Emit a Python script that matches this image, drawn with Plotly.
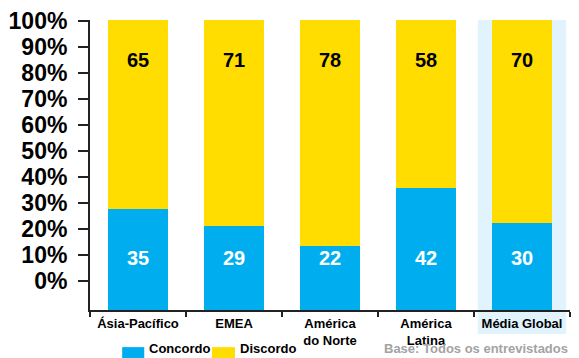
import plotly.graph_objects as go

# Survey results by region (percent)
regions = ["Ásia-Pacífico", "EMEA", "América<br>do Norte", "América<br>Latina", "Média Global"]
concordo = [35, 29, 22, 42, 30]
discordo = [65, 71, 78, 58, 70]
tick_values = list(range(0, 101, 10))
tick_labels = [f"{v}%" for v in tick_values]

BLUE = "#00AEEF"
YELLOW = "#FFDD00"
HILITE = "#E1F3FD"
FONT = "Liberation Sans, Arial, sans-serif"

fig = go.Figure()
fig.add_trace(go.Bar(x=regions, y=concordo, name="Concordo", marker=dict(color=BLUE, line=dict(width=0)),
                     width=0.625, hoverinfo="skip"))
fig.add_trace(go.Bar(x=regions, y=discordo, name="Discordo", marker=dict(color=YELLOW, line=dict(width=0)),
                     width=0.625, hoverinfo="skip"))

# value labels: agree near the bottom, disagree near the top of each column
ann = []
for r, c, d in zip(regions, concordo, discordo):
    ann.append(dict(x=r, y=17.9, xref="x", yref="y", text=f"<b>{c}</b>", showarrow=False,
                    font=dict(family=FONT, size=20, color="white")))
    ann.append(dict(x=r, y=86.2, xref="x", yref="y", text=f"<b>{d}</b>", showarrow=False,
                    font=dict(family=FONT, size=20, color="black")))

# hand-made legend below the plot
legend_items = [("Concordo", BLUE, 0.067, 0.113), ("Discordo", YELLOW, 0.254, 0.302)]
shapes = []
for name, col, x0, x1 in legend_items:
    shapes.append(dict(type="rect", xref="paper", yref="paper", x0=x0, x1=x1, y0=-0.19, y1=-0.128,
                       fillcolor=col, line=dict(width=0), layer="above"))
    ann.append(dict(x=x1 + 0.006, y=-0.134, xref="paper", yref="paper", xanchor="left", yanchor="middle",
                    text=f"<b>{name}</b>", showarrow=False, font=dict(family=FONT, size=13, color="black")))

ann.append(dict(x=1.0, y=-0.134, xref="paper", yref="paper", xanchor="right", yanchor="middle",
                text="<b>Base: Todos os entrevistados</b>", showarrow=False,
                font=dict(family=FONT, size=13, color="#A3A3A3")))

# highlighted global-average column
shapes.insert(0, dict(type="rect", xref="x", yref="paper", x0=3.54, x1=4.46, y0=-0.083, y1=1.0,
                      fillcolor=HILITE, line=dict(width=0), layer="below"))

fig.update_layout(
    width=579, height=358,
    margin=dict(l=90, r=9, t=20, b=48),
    barmode="stack",
    bargap=0.375,
    plot_bgcolor="rgba(0,0,0,0)",
    paper_bgcolor="white",
    showlegend=False,
    font=dict(family=FONT, color="black"),
    annotations=ann,
    shapes=shapes,
    xaxis=dict(
        showline=True, linecolor="#222", linewidth=2,
        ticks="outside", tickson="boundaries", ticklen=5, tickwidth=2, tickcolor="#222",
        tickfont=dict(family=FONT, size=13, color="black"),
        tickprefix="<b>", ticksuffix="</b>",
        showgrid=False, zeroline=False, fixedrange=True,
    ),
    yaxis=dict(range=[0, 100], visible=False, fixedrange=True),
    yaxis2=dict(
        overlaying="y", side="left", anchor="x",
        range=[-11.15, 100.38],
        tickmode="array", tickvals=tick_values, ticktext=[f"<b>{t}</b>" for t in tick_labels],
        tickfont=dict(family=FONT, size=23, color="black"),
        showline=True, linecolor="#222", linewidth=2,
        ticks="outside", ticklen=10, tickwidth=2, tickcolor="#222",
        ticklabelstandoff=6,
        showgrid=False, zeroline=False, fixedrange=True,
    ),
)

# dummy trace so the secondary axis is drawn
fig.add_trace(go.Scatter(x=[regions[0]], y=[0], yaxis="y2", mode="markers",
                         marker=dict(opacity=0), showlegend=False, hoverinfo="skip"))

fig.write_html("out.html")
